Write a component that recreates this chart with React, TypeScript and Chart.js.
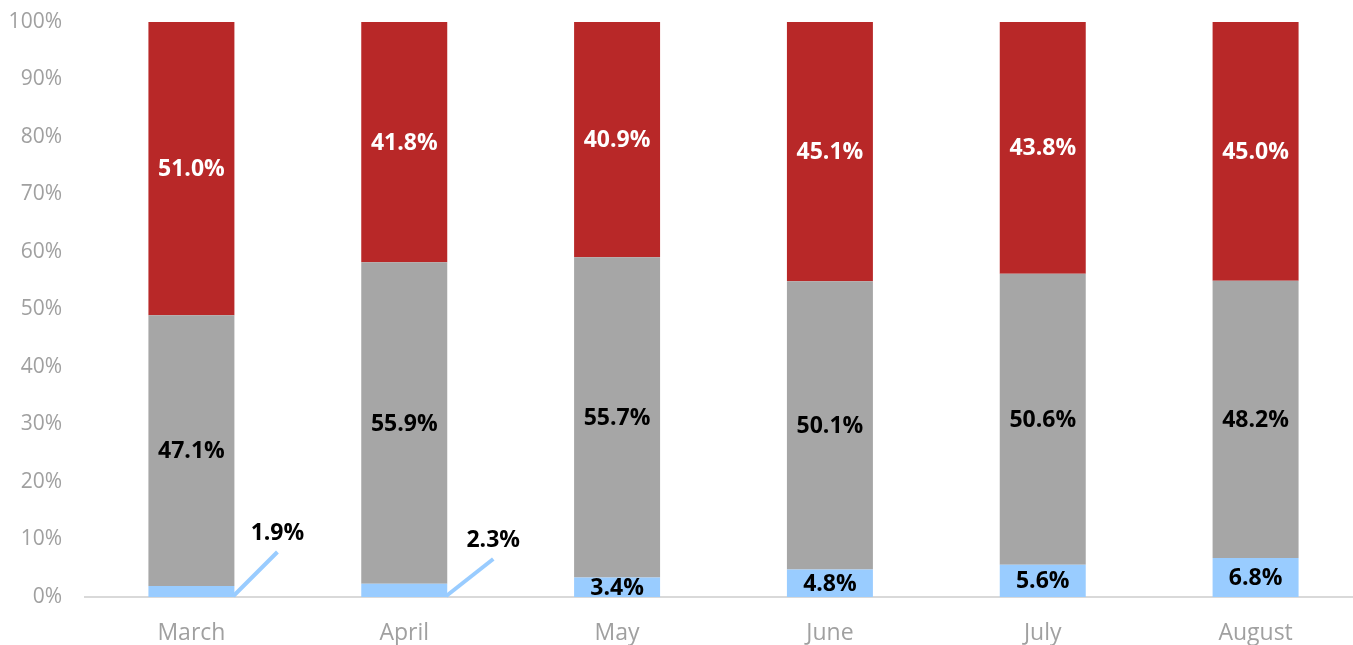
import React, { useEffect, useRef } from "react";
import { Chart, registerables } from "chart.js";

Chart.register(...registerables);

const categories = ["March", "April", "May", "June", "July", "August"];
const blueValues = [1.9, 2.3, 3.4, 4.8, 5.6, 6.8];
const grayValues = [47.1, 55.9, 55.7, 50.1, 50.6, 48.2];
const redValues = [51.0, 41.8, 40.9, 45.1, 43.8, 45.0];
const yTicks = [0, 10, 20, 30, 40, 50, 60, 70, 80, 90, 100];
// callout offsets (px) for small labels drawn outside the bar: [dx from bar center, dy from base]
const calloutOffsets: (number[] | null)[] = [[86, -64], [89, -57], null, null, null, null];

const RED = "#B82828";
const GRAY = "#A6A6A6";
const BLUE = "#99CCFF";
const FONT = "'Open Sans', sans-serif";

const labelPlugin = {
  id: "valueLabels",
  afterDatasetsDraw(chart: any) {
    const ctx = chart.ctx;
    const area = chart.chartArea;
    const yScale = chart.scales.y;
    const base = yScale.getPixelForValue(0);
    ctx.save();
    ctx.font = `bold 23px ${FONT}`;
    ctx.textAlign = "center";
    ctx.textBaseline = "middle";
    chart.data.datasets.forEach((ds: any, di: number) => {
      const meta = chart.getDatasetMeta(di);
      meta.data.forEach((bar: any, i: number) => {
        const v = ds.data[i];
        const text = v.toFixed(1) + "%";
        const off = di === 0 ? calloutOffsets[i] : null;
        if (off) {
          const lx = bar.x + off[0];
          const ly = base + off[1];
          ctx.strokeStyle = BLUE;
          ctx.lineWidth = 4;
          ctx.beginPath();
          ctx.moveTo(bar.x + bar.width / 2 - 1, base - 1);
          ctx.lineTo(lx, ly + 19);
          ctx.stroke();
          ctx.fillStyle = "#000000";
          ctx.fillText(text, lx, ly);
          return;
        }
        const cy = (bar.y + bar.base) / 2;
        ctx.save();
        ctx.beginPath();
        ctx.rect(area.left, area.top, area.right - area.left, area.bottom - area.top);
        ctx.clip();
        ctx.fillStyle = di === 2 ? "#FFFFFF" : "#000000";
        ctx.fillText(text, bar.x, cy + 1);
        ctx.restore();
      });
    });
    ctx.restore();
  },
};

export default function App() {
  const ref = useRef<HTMLCanvasElement>(null);
  useEffect(() => {
    document.body.style.margin = "0";
    document.body.style.overflow = "hidden";
    const chart = new Chart(ref.current!, {
      type: "bar",
      data: {
        labels: categories,
        datasets: [
          { label: "Blue", data: blueValues, backgroundColor: BLUE },
          { label: "Gray", data: grayValues, backgroundColor: GRAY },
          { label: "Red", data: redValues, backgroundColor: RED },
        ],
      },
      options: {
        animation: false,
        responsive: false,
        maintainAspectRatio: false,
        layout: { padding: { top: 22, left: 0, right: 0, bottom: 0 } },
        datasets: { bar: { categoryPercentage: 1, barPercentage: 0.404 } },
        plugins: { legend: { display: false }, tooltip: { enabled: false } },
        scales: {
          x: {
            stacked: true,
            grid: { display: false, drawTicks: false },
            border: { display: true, color: "#D9D9D9", width: 2 },
            ticks: { color: "#A0A0A0", font: { family: FONT, size: 23 }, padding: 23 },
            afterFit: (s: any) => {
              s.height = 48;
              s.paddingLeft = 0;
              s.paddingRight = 0;
            },
          },
          y: {
            stacked: true,
            min: 0,
            max: 100,
            afterBuildTicks: (s: any) => { s.ticks = yTicks.map((v) => ({ value: v })); },
            grid: { display: false, drawTicks: false },
            border: { display: false },
            ticks: {
              color: "#A0A0A0",
              font: { family: FONT, size: 21 },
              padding: 23,
              callback: (v: any) => v + "%",
            },
            afterFit: (s: any) => {
              s.width = 85;
              s.paddingTop = 0;
              s.paddingBottom = 0;
            },
          },
        },
      },
      plugins: [labelPlugin],
    });
    return () => chart.destroy();
  }, []);
  return (
    <div style={{ position: "fixed", left: 0, top: 0, width: 1353, height: 645, overflow: "hidden", background: "#fff" }}>
      <canvas ref={ref} width={1362} height={645} style={{ width: 1362, height: 645, display: "block" }} />
    </div>
  );
}
